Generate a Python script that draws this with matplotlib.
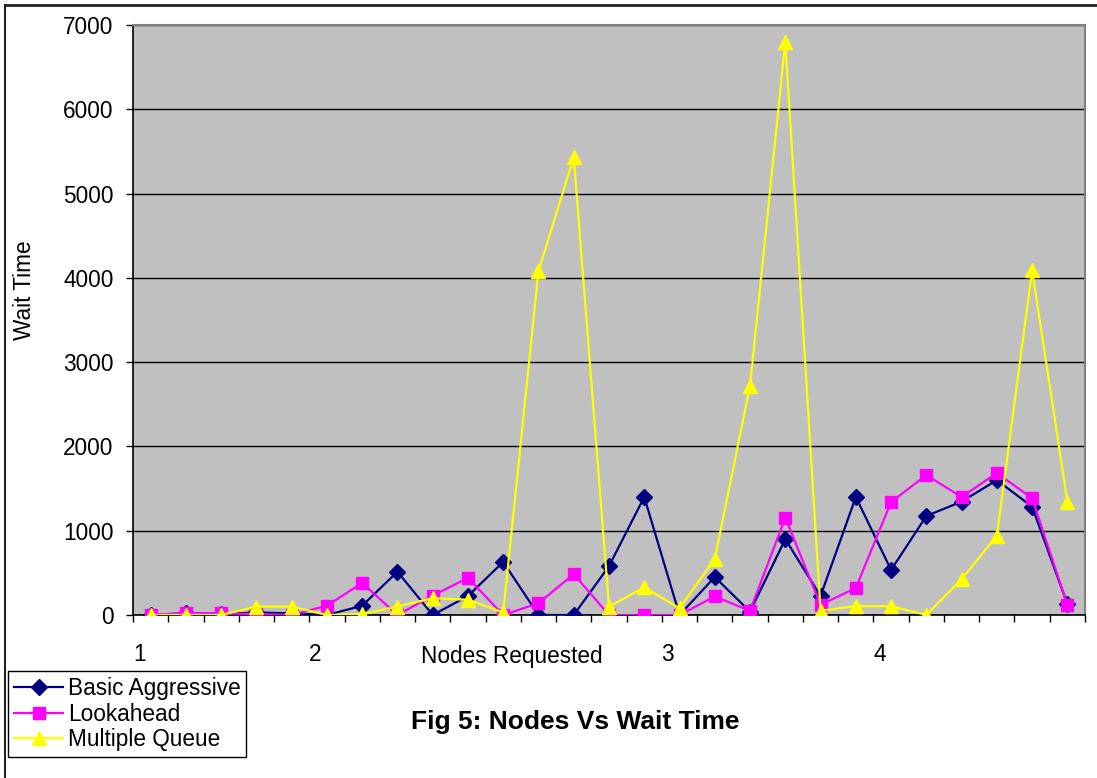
import matplotlib
matplotlib.use('Agg')
import matplotlib.pyplot as plt
from matplotlib.lines import Line2D
import numpy as np

plt.rcParams['font.family'] = ['Liberation Sans', 'DejaVu Sans']

# wait times per request (27 jobs)
basic_aggressive = [0, 20, 10, 30, 20, 0, 110, 514, 0, 225, 630, 0, 0, 580, 1400,
                    0, 450, 40, 900, 225, 1400, 534, 1175, 1345, 1600, 1285, 130]
lookahead = [0, 25, 20, 10, 0, 110, 380, 0, 230, 440, 0, 140, 485, 0, 0,
             0, 220, 50, 1155, 120, 320, 1340, 1660, 1400, 1685, 1385, 120]
multiple_queue = [0, 0, 0, 100, 100, 0, 10, 100, 200, 180, 30, 4080, 5430, 100, 330,
                  80, 665, 2720, 6800, 50, 105, 105, 0, 425, 940, 4090, 1345]

# odd category labels as in the original excel chart
xtick_pos = [0.7, 5.66, 15.67, 21.69]
xtick_labels = ['1', '2', '3', '4']

fs = 16.3

fig = plt.figure(figsize=(10.97, 7.78), dpi=100)
ax = fig.add_axes([133/1097, 1-615/778, 952/1097, 590/778])
ax.set_facecolor('#c0c0c0')

x = np.arange(1, len(basic_aggressive)+1)
ax.plot(x, basic_aggressive, color='#000080', lw=1.6, marker='D', markersize=8.5, label='Basic Aggressive', zorder=3)
ax.plot(x, lookahead, color='#ff00ff', lw=1.6, marker='s', markersize=8, label='Lookahead', zorder=3)
ax.plot(x, multiple_queue, color='#ffff00', lw=1.6, marker='^', markersize=10, label='Multiple Queue', zorder=3)

ax.set_xlim(0.5, len(x)+0.5)
ax.set_ylim(0, 7000)
ax.set_yticks(range(0, 7001, 1000))
ax.yaxis.grid(True, color='black', lw=1)
ax.set_axisbelow(True)

ax.set_xticks(xtick_pos)
ax.set_xticklabels(xtick_labels)
ax.set_xticks(np.arange(0.5, len(x)+1), minor=True)
ax.tick_params(axis='x', which='major', length=0, pad=20, labelsize=fs)
ax.tick_params(axis='x', which='minor', length=5, width=1, direction='out')
ax.tick_params(axis='y', length=5, width=1, pad=9, labelsize=fs)

for s in ['top', 'right']:
    ax.spines[s].set_color('#808080')
    ax.spines[s].set_linewidth(1.5)
ax.spines['left'].set_linewidth(1.2)
ax.spines['bottom'].set_linewidth(1.2)

fig.text(512/1097, 1-657/778, 'Nodes Requested', ha='center', va='center', fontsize=fs)
fig.text(25/1097, 1-290/778, 'Wait Time', ha='center', va='center', rotation=90, fontsize=fs)
fig.text(575/1097, 1-722/778, 'Fig 5: Nodes Vs Wait Time', ha='center', va='center',
         fontsize=19, fontweight='bold')

leg = fig.legend(loc='lower left', bbox_to_anchor=(8/1097, 1-757/778), fontsize=fs,
                 fancybox=False, framealpha=1, edgecolor='black', borderaxespad=0,
                 handlelength=2.2, labelspacing=0.12, borderpad=0.25, handletextpad=0.2)
leg.get_frame().set_linewidth(1)

# outer chart border
fig.add_artist(Line2D([5/1097, 1], [1-5/778, 1-5/778], color='#222222', lw=2))
fig.add_artist(Line2D([5/1097, 5/1097], [0, 1-5/778], color='#222222', lw=1.5))

plt.savefig('out.png', dpi=100)
